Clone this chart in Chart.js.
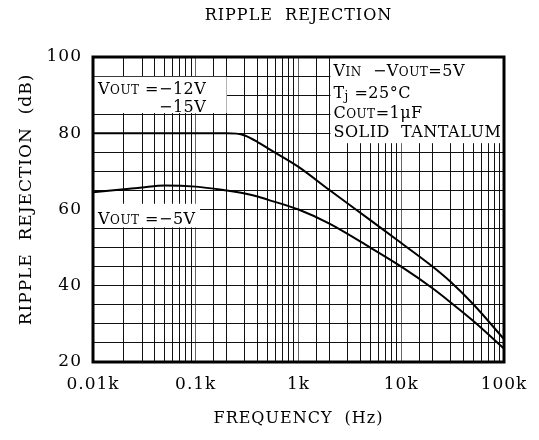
<!DOCTYPE html>
<html><head><meta charset="utf-8">
<script src="https://cdn.jsdelivr.net/npm/chart.js@4/dist/chart.umd.min.js"></script>
<style>html,body{margin:0;padding:0;background:#fff}#wrap{width:539px;height:440px}</style>
</head><body><div id="wrap"><canvas id="c" width="539" height="440"></canvas></div>
<script>
// Data
const frequencies = [10, 20, 30, 50, 100, 200, 250, 300, 400, 500, 1000, 2000, 5000, 10000, 20000, 30000, 50000, 100000];
const rejection12V15V = [80, 80, 80, 80, 80, 80, 79.9, 79.4, 77.7, 76.1, 71.2, 65.1, 57.2, 51.2, 45.1, 41.1, 35.2, 26];
const rejection5V = [64.5, 65.3, 65.8, 66.3, 66, 65, 64.6, 64.2, 63.4, 62.6, 60, 56.3, 50, 45, 39.4, 35.7, 30.8, 23.5];
const xTickValues = [10, 100, 1000, 10000, 100000];
const xTickLabels = ['0.01k', '0.1k', '1k', '10k', '100k'];
const yTickLabels = [20, 40, 60, 80, 100];
const chartTitle = 'RIPPLE  REJECTION';
const yTitle = 'RIPPLE  REJECTION  (dB)';
const xTitle = 'FREQUENCY  (Hz)';

const SERIF = '"DejaVu Serif", "Liberation Serif", serif';

function pts(ys) { return frequencies.map((f, i) => ({ x: f, y: ys[i] })); }

function richWidth(ctx, parts) {
  let w = 0;
  parts.forEach(p => { ctx.font = p.s + 'px ' + SERIF; w += ctx.measureText(p.t).width; });
  return w;
}
function drawRich(ctx, parts, x, y, align) {
  const total = richWidth(ctx, parts);
  let cx = align === 'right' ? x - total : x;
  ctx.textAlign = 'left';
  ctx.textBaseline = 'alphabetic';
  parts.forEach(p => {
    ctx.font = p.s + 'px ' + SERIF;
    ctx.fillText(p.t, cx, y + (p.dy || 0));
    cx += ctx.measureText(p.t).width;
  });
}

const spacing = {
  id: 'spacing',
  beforeDraw(chart) { chart.ctx.letterSpacing = '1px'; }
};

const annotations = {
  id: 'annotations',
  beforeDatasetsDraw(chart) {
    const { ctx, chartArea: a, scales: { x, y } } = chart;
    ctx.save();
    ctx.fillStyle = '#fff';
    const rx = x.getPixelForValue(2000);
    ctx.fillRect(rx + 1, a.top, a.right - rx - 1, y.getPixelForValue(77.4) - a.top);
    const lx2 = x.getPixelForValue(200);
    ctx.fillRect(a.left, y.getPixelForValue(94.8), lx2 - a.left, y.getPixelForValue(85.3) - y.getPixelForValue(94.8));
    const lx3 = x.getPixelForValue(110);
    ctx.fillRect(a.left, y.getPixelForValue(61.5), lx3 - a.left, y.getPixelForValue(55.3) - y.getPixelForValue(61.5));

    ctx.fillStyle = '#000';
    ctx.letterSpacing = '0.5px';
    const L = a.left + 5;
    const line1 = [{ t: 'V', s: 16 }, { t: 'OUT', s: 12 }, { t: ' =\u221212V', s: 16 }];
    drawRich(ctx, line1, L, y.getPixelForValue(90.2));
    const end1 = L + richWidth(ctx, line1);
    drawRich(ctx, [{ t: '\u221215V', s: 16 }], end1, y.getPixelForValue(85.6), 'right');
    drawRich(ctx, [{ t: 'V', s: 16 }, { t: 'OUT', s: 12 }, { t: ' =\u22125V', s: 16 }], L, y.getPixelForValue(56.2));

    const R = rx + 4;
    drawRich(ctx, [{ t: 'V', s: 16 }, { t: 'IN', s: 12 }, { t: '  \u2212V', s: 16 }, { t: 'OUT', s: 12 }, { t: '=5V', s: 16 }], R, y.getPixelForValue(94.9));
    drawRich(ctx, [{ t: 'T', s: 16 }, { t: 'j', s: 12, dy: 2 }, { t: ' =25\u00B0C', s: 16 }], R, y.getPixelForValue(89.2));
    drawRich(ctx, [{ t: 'C', s: 16 }, { t: 'OUT', s: 12 }, { t: '=1\u03BCF', s: 16 }], R, y.getPixelForValue(84.0));
    drawRich(ctx, [{ t: 'SOLID  TANTALUM', s: 16 }], R, y.getPixelForValue(79.0));
    ctx.restore();
  },
  afterDraw(chart) {
    const { ctx, chartArea: a } = chart;
    ctx.save();
    ctx.strokeStyle = '#000';
    ctx.lineWidth = 3;
    ctx.strokeRect(a.left, a.top, a.right - a.left, a.bottom - a.top);
    ctx.fillStyle = '#000';
    ctx.letterSpacing = '1px';
    ctx.textAlign = 'center';
    ctx.textBaseline = 'middle';
    // chart title centred over the plot area
    ctx.font = '16px ' + SERIF;
    ctx.fillText(chartTitle, (a.left + a.right) / 2, 16);
    // y axis title
    ctx.font = '17px ' + SERIF;
    ctx.translate(27, (a.top + a.bottom) / 2 - 10);
    ctx.rotate(-Math.PI / 2);
    ctx.fillText(yTitle, 0, 0);
    ctx.restore();
  }
};

new Chart(document.getElementById('c'), {
  type: 'line',
  data: {
    datasets: [
      { label: 'VOUT = -12V, -15V', data: pts(rejection12V15V), borderColor: '#000', borderWidth: 2, pointRadius: 0, cubicInterpolationMode: 'monotone', fill: false },
      { label: 'VOUT = -5V', data: pts(rejection5V), borderColor: '#000', borderWidth: 2, pointRadius: 0, cubicInterpolationMode: 'monotone', fill: false }
    ]
  },
  options: {
    responsive: false,
    animation: false,
    devicePixelRatio: 1,
    layout: { padding: { left: 0, right: 35, top: 57, bottom: 0 } },
    plugins: {
      legend: { display: false },
      tooltip: { enabled: false },
      title: { display: false }
    },
    scales: {
      x: {
        type: 'logarithmic',
        min: 10, max: 100000,
        afterFit(s) { s.height = 78; },
        grid: {
          color: c => (c.tick && xTickValues.some(v => Math.abs(v - c.tick.value) < 1e-6)) ? '#666' : '#111',
          lineWidth: 1,
          drawTicks: false
        },
        border: { display: false },
        ticks: {
          autoSkip: false, maxRotation: 0, minRotation: 0,
          color: '#000', padding: 12,
          font: { family: SERIF, size: 17 },
          callback(v) {
            const i = xTickValues.findIndex(t => Math.abs(t - v) < 1e-6);
            return i >= 0 ? xTickLabels[i] : '';
          }
        },
        title: { display: true, text: xTitle, color: '#000', font: { family: SERIF, size: 16 }, padding: { top: 0, bottom: 12 } }
      },
      y: {
        min: 20, max: 100,
        afterFit(s) { s.width = 93; },
        grid: { color: '#111', lineWidth: 1, drawTicks: false },
        border: { display: false },
        ticks: {
          stepSize: 5, autoSkip: false,
          color: '#000', padding: 11,
          font: { family: SERIF, size: 17 },
          callback(v) { return yTickLabels.includes(v) ? String(v) : ''; }
        },
        title: { display: false }
      }
    }
  },
  plugins: [spacing, annotations]
});
</script>
</body></html>
